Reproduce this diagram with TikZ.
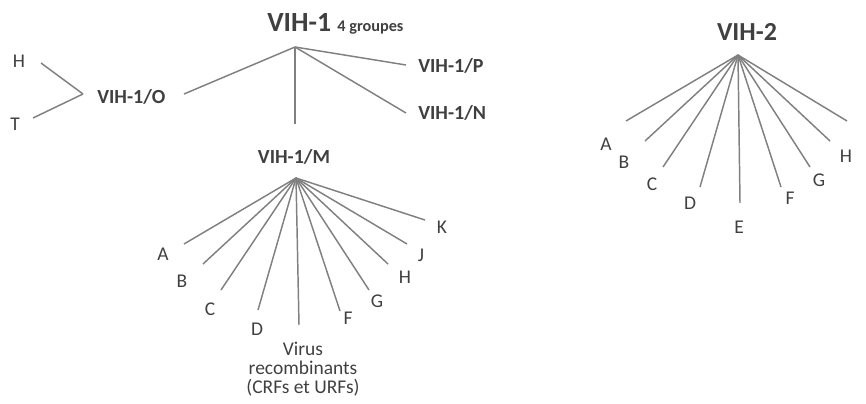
\documentclass[tikz,border=0pt]{standalone}
\usepackage{fontspec}
\setmainfont{Carlito}

\begin{document}
\begin{tikzpicture}[
    x=0.75pt, y=-0.75pt,
    branch/.style={draw=black!50, line width=1.1pt},
    leaf/.style={inner sep=0pt, text=black!75, font=\fontsize{14.6}{14.4}\selectfont},
    group/.style={inner sep=0pt, text=black!75, font=\fontsize{15}{17}\selectfont\bfseries},
    title/.style={inner sep=0pt, text=black!75, font=\fontsize{20.8}{25}\selectfont\bfseries}
]
\useasboundingbox (0,0) rectangle (866,403);

% VIH-1 and its groups
\node[title, anchor=base west] at (267,32) (vih1) {VIH-1 {\fontsize{12.2}{15}\selectfont 4 groupes}};
\coordinate (hub1) at (295,47);
\coordinate (toO) at (184,94);
\coordinate (toM) at (295,124);
\coordinate (toP) at (406,65);
\coordinate (toN) at (406,113);
\node[group, anchor=west] at (97,97) (grpO) {VIH-1/O};
\node[group, anchor=west] at (418,66) (grpP) {VIH-1/P};
\node[group, anchor=west] at (418,113) (grpN) {VIH-1/N};
\node[group] at (294,157) (grpM) {VIH-1/M};

\draw[branch] (hub1) -- (toO);
\draw[branch] (hub1) -- (toM);
\draw[branch] (hub1) -- (toP);
\draw[branch] (hub1) -- (toN);

% group O
\coordinate (hubO) at (83,94);
\coordinate (oH) at (41,63);
\coordinate (oT) at (33,118);
\node[leaf] at (19,61) (labOH) {H};
\node[leaf] at (15,124) (labOT) {T};
\draw[branch] (hubO) -- (oH);
\draw[branch] (hubO) -- (oT);

% group M subtypes
\coordinate (hubM) at (296,178);
\coordinate (mA) at (184,244);
\coordinate (mB) at (203,264);
\coordinate (mC) at (221,290);
\coordinate (mD) at (258,310);
\coordinate (mR) at (299,325);
\coordinate (mF) at (340,311);
\coordinate (mG) at (369,290);
\coordinate (mH) at (388,264);
\coordinate (mJ) at (407,244);
\coordinate (mK) at (425,220);
\node[leaf] at (163,254) (labMA) {A};
\node[leaf] at (182,281) (labMB) {B};
\node[leaf] at (210,309) (labMC) {C};
\node[leaf] at (257,329) (labMD) {D};
\node[leaf, align=center] at (303,369) (labMR) {Virus\\recombinants\\(CRFs et URFs)};
\node[leaf] at (348,318) (labMF) {F};
\node[leaf] at (377,301) (labMG) {G};
\node[leaf] at (405,277) (labMH) {H};
\node[leaf] at (421,255) (labMJ) {J};
\node[leaf] at (442,227) (labMK) {K};
\draw[branch] (hubM) -- (mA);
\draw[branch] (hubM) -- (mB);
\draw[branch] (hubM) -- (mC);
\draw[branch] (hubM) -- (mD);
\draw[branch] (hubM) -- (mR);
\draw[branch] (hubM) -- (mF);
\draw[branch] (hubM) -- (mG);
\draw[branch] (hubM) -- (mH);
\draw[branch] (hubM) -- (mJ);
\draw[branch] (hubM) -- (mK);

% VIH-2 subtypes
\node[title, font=\fontsize{19.5}{23}\selectfont\bfseries] at (747,32) (vih2) {VIH-2};
\coordinate (hub2) at (738,55);
\coordinate (tA) at (626,121);
\coordinate (tB) at (645,141);
\coordinate (tC) at (663,167);
\coordinate (tD) at (700,187);
\coordinate (tE) at (740,203);
\coordinate (tF) at (781,187);
\coordinate (tG) at (810,167);
\coordinate (tH) at (830,141);
\coordinate (tX) at (847,121);
\node[leaf] at (606,144) (labTA) {A};
\node[leaf] at (624,162) (labTB) {B};
\node[leaf] at (652,184) (labTC) {C};
\node[leaf] at (690,203) (labTD) {D};
\node[leaf] at (739,227) (labTE) {E};
\node[leaf] at (790,198) (labTF) {F};
\node[leaf] at (819,180) (labTG) {G};
\node[leaf] at (846,156) (labTH) {H};
\draw[branch] (hub2) -- (tA);
\draw[branch] (hub2) -- (tB);
\draw[branch] (hub2) -- (tC);
\draw[branch] (hub2) -- (tD);
\draw[branch] (hub2) -- (tE);
\draw[branch] (hub2) -- (tF);
\draw[branch] (hub2) -- (tG);
\draw[branch] (hub2) -- (tH);
\draw[branch] (hub2) -- (tX);

\end{tikzpicture}
\end{document}
